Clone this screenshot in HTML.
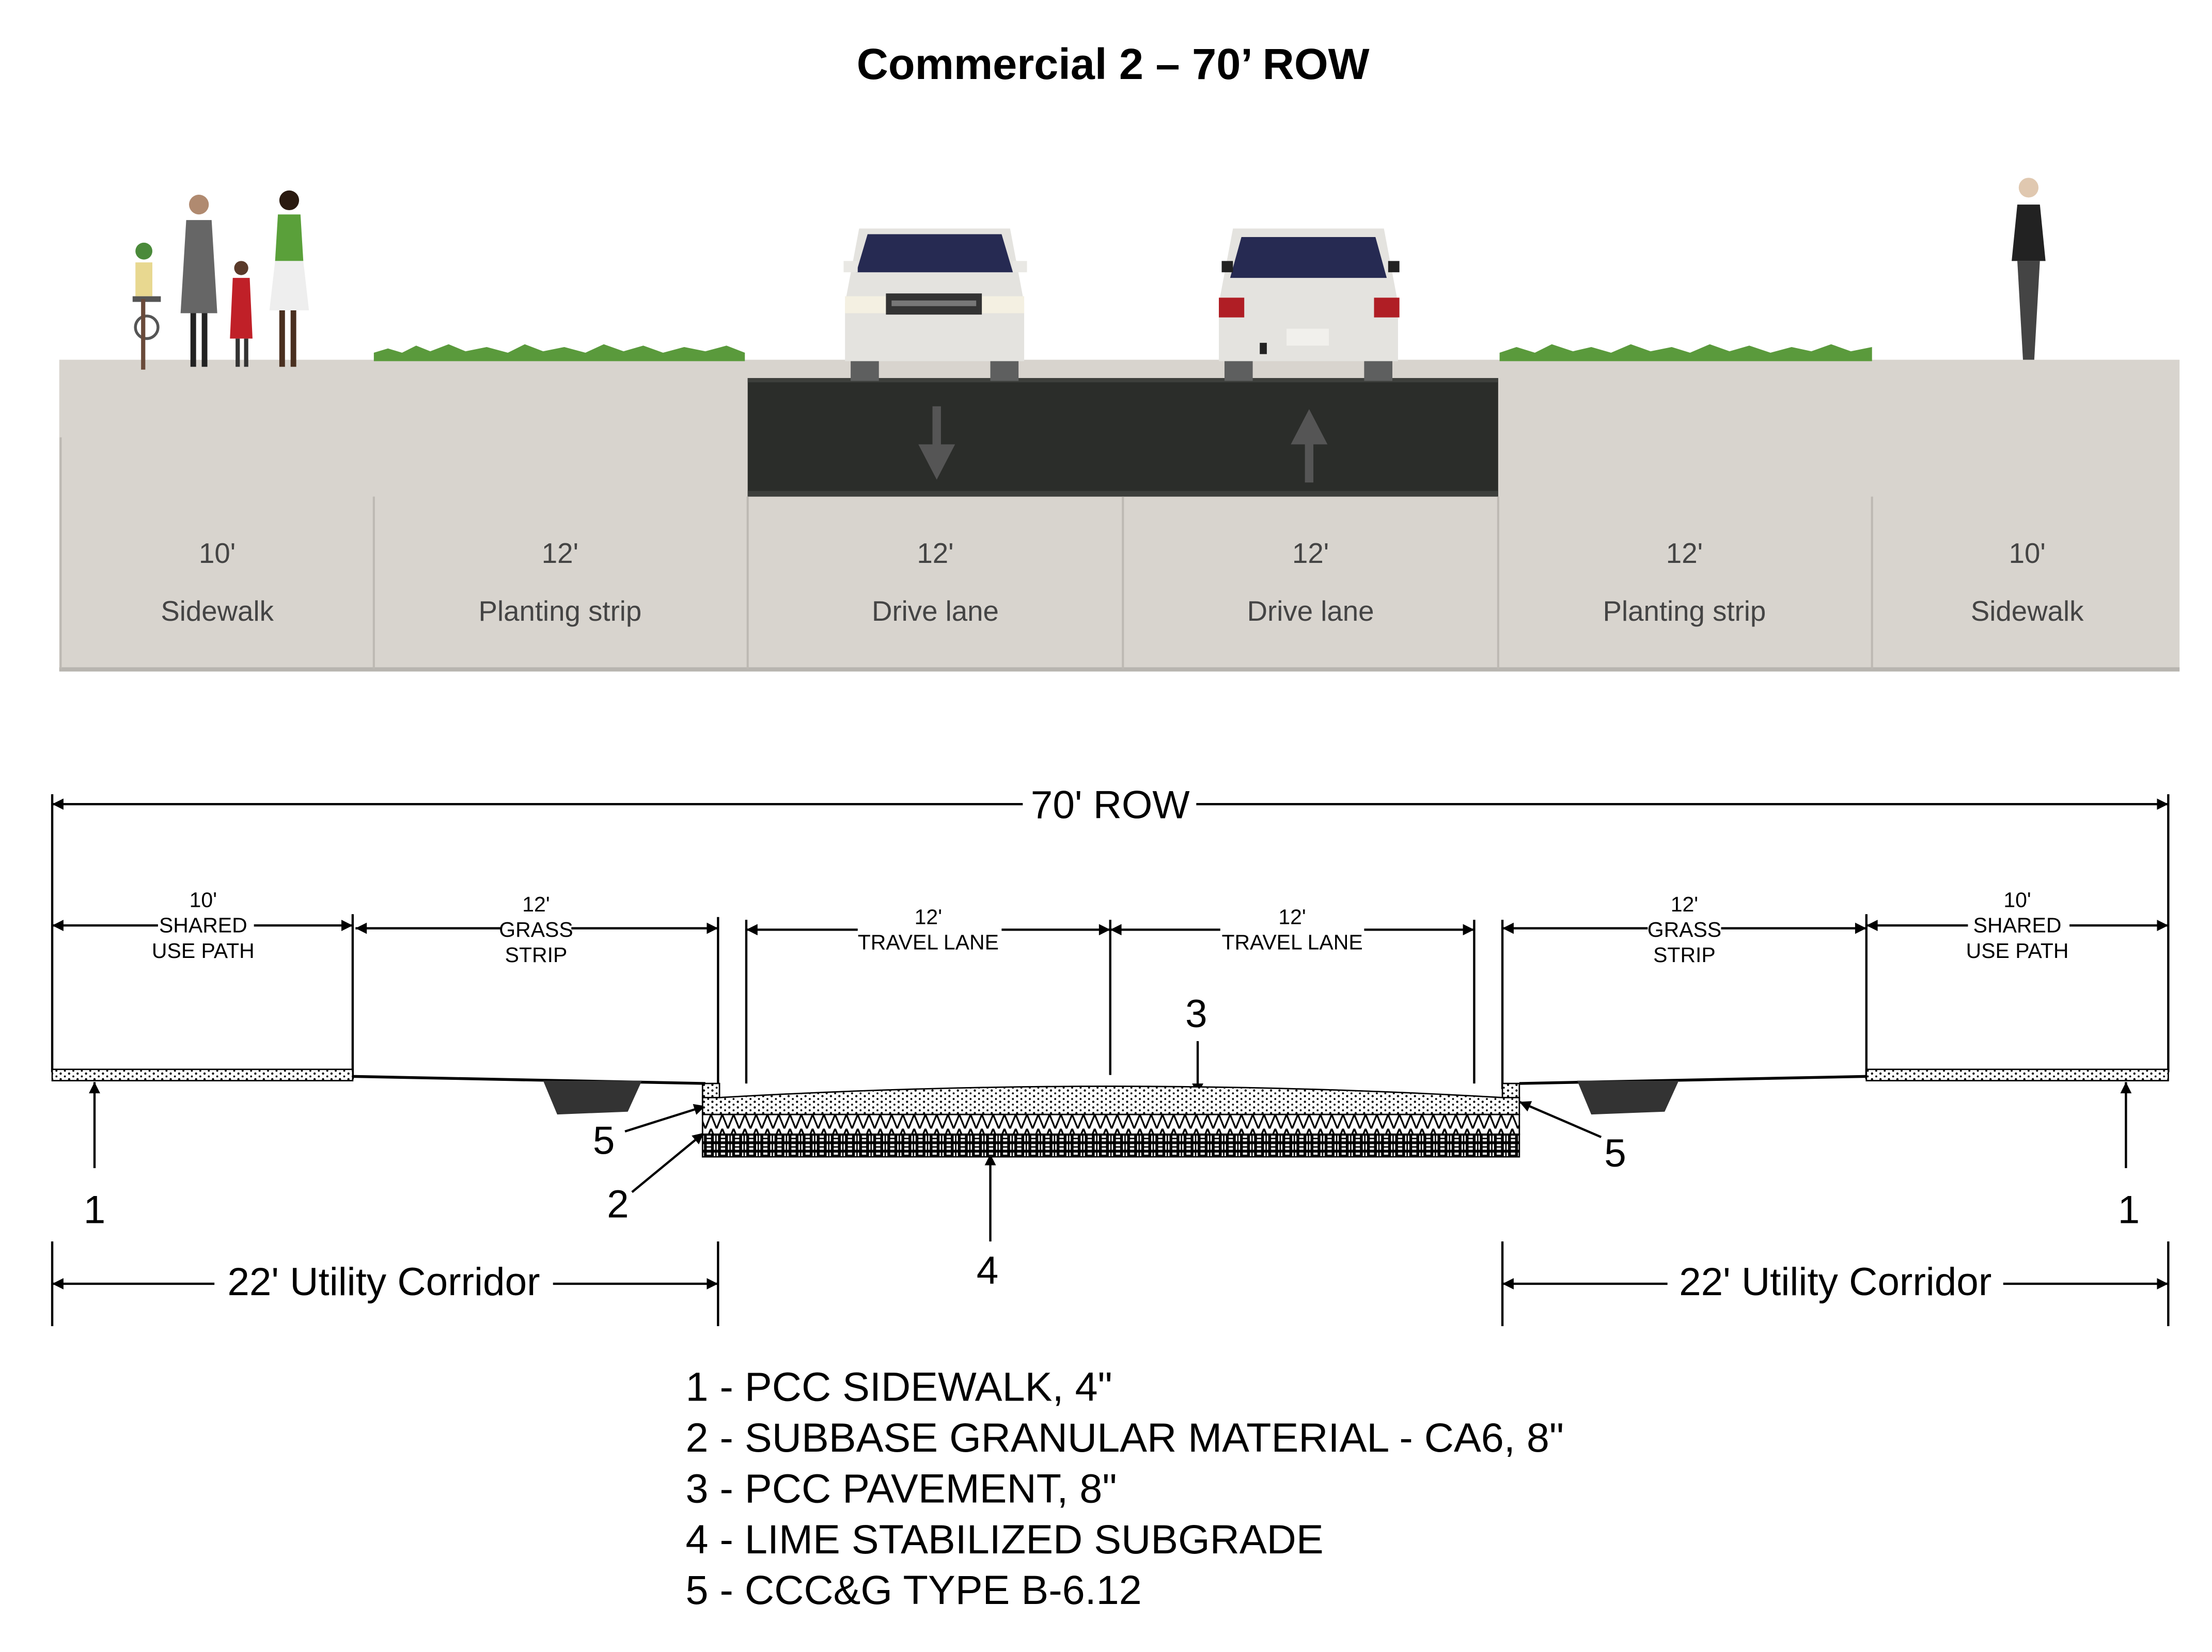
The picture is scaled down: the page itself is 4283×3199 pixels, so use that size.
<!DOCTYPE html>
<html><head><meta charset="utf-8"><style>
html,body{margin:0;padding:0;background:#fff;}
svg{display:block;}
</style></head><body>
<svg width="4283" height="3199" viewBox="0 0 1568 1171" preserveAspectRatio="none" xmlns="http://www.w3.org/2000/svg" font-family="Liberation Sans, Arial, sans-serif">
<defs>
<marker id="ar" viewBox="0 0 10 10" refX="10" refY="5" markerWidth="22" markerHeight="8" markerUnits="userSpaceOnUse" orient="auto-start-reverse"><path d="M0,0 L10,5 L0,10 z" fill="#000"/></marker>
<pattern id="dots" width="6" height="4" patternUnits="userSpaceOnUse"><rect width="6" height="4" fill="#fff"/><circle cx="1" cy="1" r="0.8" fill="#000"/><circle cx="4" cy="3" r="0.7" fill="#000"/></pattern>
<pattern id="grav" width="8" height="10" patternUnits="userSpaceOnUse"><rect width="8" height="10" fill="#fff"/><path d="M0,0 L4,10 L8,0" stroke="#000" stroke-width="1.2" fill="none"/></pattern>
<pattern id="lime" width="10" height="6" patternUnits="userSpaceOnUse"><rect width="10" height="6" fill="#000"/><rect x="1" y="1" width="3" height="1.5" fill="#fff"/><rect x="6" y="1" width="1" height="4" fill="#fff"/><rect x="8" y="1" width="1" height="4" fill="#fff"/><rect x="1" y="3.5" width="3" height="1.5" fill="#fff"/></pattern>
</defs>
<rect width="1568" height="1171" fill="#fff"/>
<text x="789" y="56" text-anchor="middle" font-size="31" font-weight="bold" font-family="Liberation Sans, sans-serif">Commercial 2 – 70’ ROW</text>

<rect x="42" y="255" width="1503" height="220" fill="#d8d4ce"/>
<rect x="530" y="268" width="532" height="84" fill="#2b2d2a"/>
<rect x="530" y="268" width="532" height="3" fill="#3d3f3c"/>
<rect x="530" y="348" width="532" height="4" fill="#3d3f3c"/>
<rect x="42" y="473" width="1503" height="3" fill="#b8b5b0"/>
<g stroke="#bdb9b3" stroke-width="1.5">
<line x1="265" y1="352" x2="265" y2="474"/><line x1="530" y1="352" x2="530" y2="474"/>
<line x1="796" y1="352" x2="796" y2="474"/><line x1="1062" y1="352" x2="1062" y2="474"/>
<line x1="1327" y1="352" x2="1327" y2="474"/><line x1="43" y1="310" x2="43" y2="474"/>
</g>
<g font-size="20" fill="#444" text-anchor="middle">
<text x="154" y="399">10'</text><text x="154" y="440">Sidewalk</text>
<text x="397" y="399">12'</text><text x="397" y="440">Planting strip</text>
<text x="663" y="399">12'</text><text x="663" y="440">Drive lane</text>
<text x="929" y="399">12'</text><text x="929" y="440">Drive lane</text>
<text x="1194" y="399">12'</text><text x="1194" y="440">Planting strip</text>
<text x="1437" y="399">10'</text><text x="1437" y="440">Sidewalk</text>
</g>
<g fill="#5a9a3c">
<path d="M265,256 L265,250 L275,247 L285,250 L295,245 L305,249 L318,244 L330,249 L345,246 L360,250 L372,244 L385,249 L400,246 L415,250 L428,244 L442,249 L456,245 L470,250 L485,246 L500,249 L515,245 L528,250 L528,256 z"/>
<path d="M1063,256 L1063,250 L1075,246 L1088,250 L1100,244 L1115,249 L1128,246 L1142,250 L1156,244 L1170,249 L1185,246 L1198,250 L1212,244 L1226,249 L1240,245 L1255,250 L1270,246 L1284,249 L1298,244 L1312,249 L1327,246 L1327,256 z"/>
</g>
<g fill="#555">
<rect x="661" y="288" width="6" height="30"/><path d="M651,315 L677,315 L664,340 z"/>
<rect x="925" y="312" width="6" height="30"/><path d="M915,315 L941,315 L928,290 z"/>
</g>
<g>
<rect x="603" y="255" width="20" height="15" fill="#5e5f5f"/><rect x="702" y="255" width="20" height="15" fill="#5e5f5f"/>
<path d="M609,162 L716,162 L726,215 L726,256 L599,256 L599,215 z" fill="#e4e3df"/>
<path d="M615,166 L710,166 L718,193 L607,193 z" fill="#262a52"/>
<rect x="598" y="185" width="10" height="8" fill="#e9e8e4"/><rect x="718" y="185" width="10" height="8" fill="#e9e8e4"/>
<rect x="599" y="210" width="127" height="12" fill="#f4f0e2"/>
<rect x="628" y="208" width="68" height="15" fill="#333"/><rect x="632" y="213" width="60" height="4" fill="#777"/>
</g>
<g>
<rect x="868" y="255" width="20" height="15" fill="#5e5f5f"/><rect x="967" y="255" width="20" height="15" fill="#5e5f5f"/>
<path d="M874,162 L981,162 L991,215 L991,256 L864,256 L864,215 z" fill="#e4e3df"/>
<path d="M880,168 L975,168 L983,197 L872,197 z" fill="#262a52"/>
<rect x="866" y="185" width="8" height="8" fill="#222"/><rect x="984" y="185" width="8" height="8" fill="#222"/>
<rect x="864" y="211" width="18" height="14" fill="#b01e25"/><rect x="974" y="211" width="18" height="14" fill="#b01e25"/>
<rect x="912" y="233" width="30" height="12" fill="#f1f0ec"/>
<rect x="893" y="243" width="5" height="8" fill="#222"/>
</g>
<g>
<circle cx="102" cy="178" r="6" fill="#4a8a3a"/><rect x="96" y="186" width="12" height="24" fill="#e8d890"/><rect x="94" y="210" width="20" height="4" fill="#555"/><circle cx="104" cy="232" r="8" fill="none" stroke="#555" stroke-width="2"/><rect x="100" y="212" width="3" height="50" fill="#6a4a3a"/>
<circle cx="141" cy="145" r="7" fill="#b08a70"/><path d="M132,156 L150,156 L154,222 L128,222 z" fill="#666"/><rect x="135" y="222" width="4" height="38" fill="#222"/><rect x="143" y="222" width="4" height="38" fill="#222"/>
<circle cx="171" cy="190" r="5" fill="#5a3a2a"/><path d="M165,197 L177,197 L179,240 L163,240 z" fill="#c02028"/><rect x="167" y="240" width="3" height="20" fill="#333"/><rect x="173" y="240" width="3" height="20" fill="#333"/>
<circle cx="205" cy="142" r="7" fill="#2a1a10"/><path d="M197,152 L213,152 L215,185 L195,185 z" fill="#5aa03a"/><path d="M195,185 L215,185 L219,220 L191,220 z" fill="#eee"/><rect x="198" y="220" width="4" height="40" fill="#4a3020"/><rect x="206" y="220" width="4" height="40" fill="#4a3020"/>
<circle cx="1438" cy="133" r="7" fill="#e0c8b0"/><path d="M1430,145 L1446,145 L1450,185 L1426,185 z" fill="#222"/><path d="M1430,185 L1446,185 L1442,255 L1434,255 z" fill="#444"/>
</g>

<g stroke="#000" stroke-width="1.6" fill="none">
<line x1="37" y1="570" x2="725" y2="570" marker-start="url(#ar)"/>
<line x1="848" y1="570" x2="1537" y2="570" marker-end="url(#ar)"/>
<line x1="37" y1="563" x2="37" y2="760"/><line x1="1537" y1="563" x2="1537" y2="760"/>
<line x1="250" y1="648" x2="250" y2="765"/><line x1="509" y1="650" x2="509" y2="772"/>
<line x1="529" y1="652" x2="529" y2="768"/><line x1="787" y1="652" x2="787" y2="762"/>
<line x1="1045" y1="652" x2="1045" y2="768"/><line x1="1065" y1="652" x2="1065" y2="772"/>
<line x1="1323" y1="648" x2="1323" y2="765"/>
<line x1="37" y1="656" x2="112" y2="656" marker-start="url(#ar)"/><line x1="180" y1="656" x2="250" y2="656" marker-end="url(#ar)"/>
<line x1="252" y1="658" x2="355" y2="658" marker-start="url(#ar)"/><line x1="405" y1="658" x2="509" y2="658" marker-end="url(#ar)"/>
<line x1="529" y1="659" x2="608" y2="659" marker-start="url(#ar)"/><line x1="710" y1="659" x2="787" y2="659" marker-end="url(#ar)"/>
<line x1="787" y1="659" x2="865" y2="659" marker-start="url(#ar)"/><line x1="967" y1="659" x2="1045" y2="659" marker-end="url(#ar)"/>
<line x1="1065" y1="658" x2="1168" y2="658" marker-start="url(#ar)"/><line x1="1220" y1="658" x2="1323" y2="658" marker-end="url(#ar)"/>
<line x1="1323" y1="656" x2="1395" y2="656" marker-start="url(#ar)"/><line x1="1467" y1="656" x2="1537" y2="656" marker-end="url(#ar)"/>
<line x1="37" y1="880" x2="37" y2="940"/><line x1="509" y1="880" x2="509" y2="940"/>
<line x1="1065" y1="880" x2="1065" y2="940"/><line x1="1537" y1="880" x2="1537" y2="940"/>
<line x1="37" y1="910" x2="152" y2="910" marker-start="url(#ar)"/><line x1="392" y1="910" x2="509" y2="910" marker-end="url(#ar)"/>
<line x1="1065" y1="910" x2="1182" y2="910" marker-start="url(#ar)"/><line x1="1420" y1="910" x2="1537" y2="910" marker-end="url(#ar)"/>
<line x1="250" y1="763" x2="500" y2="768" stroke-width="2"/><line x1="1077" y1="768" x2="1323" y2="763" stroke-width="2"/>
<line x1="67" y1="828" x2="67" y2="767" marker-end="url(#ar)"/>
<line x1="1507" y1="828" x2="1507" y2="767" marker-end="url(#ar)"/>
<line x1="849" y1="738" x2="849" y2="776" marker-end="url(#ar)"/>
<line x1="702" y1="880" x2="702" y2="818" marker-end="url(#ar)"/>
<line x1="443" y1="802" x2="500" y2="784" marker-end="url(#ar)"/>
<line x1="448" y1="845" x2="499" y2="803" marker-end="url(#ar)"/>
<line x1="1135" y1="806" x2="1077" y2="781" marker-end="url(#ar)"/>
</g>
<rect x="37" y="758" width="213" height="8" fill="url(#dots)" stroke="#000" stroke-width="1"/>
<rect x="1323" y="758" width="214" height="8" fill="url(#dots)" stroke="#000" stroke-width="1"/>
<path d="M385,766 L455,766 L445,788 L395,790 z" fill="#333"/>
<path d="M1118,766 L1190,766 L1180,788 L1128,790 z" fill="#333"/>
<rect x="498" y="768" width="12" height="14" fill="url(#dots)" stroke="#000" stroke-width="1"/>
<rect x="1065" y="768" width="12" height="14" fill="url(#dots)" stroke="#000" stroke-width="1"/>
<path d="M510,778 Q787,762 1065,778 L1077,778 L1077,790 L498,790 L498,778 z" fill="url(#dots)" stroke="#000" stroke-width="1"/>
<rect x="498" y="790" width="579" height="14" fill="url(#grav)" stroke="#000" stroke-width="1"/>
<rect x="498" y="804" width="579" height="16" fill="url(#lime)" stroke="#000" stroke-width="1"/>

<g font-size="28" text-anchor="middle">
<text x="787" y="580">70' ROW</text>
<text x="67" y="867">1</text><text x="1509" y="867">1</text>
<text x="428" y="818">5</text><text x="438" y="863">2</text>
<text x="848" y="728">3</text><text x="700" y="910">4</text><text x="1145" y="827">5</text>
<text x="272" y="918">22' Utility Corridor</text>
<text x="1301" y="918">22' Utility Corridor</text>
</g>
<g font-size="15" text-anchor="middle">
<text x="144" y="643">10'</text><text x="144" y="661">SHARED</text><text x="144" y="679">USE PATH</text>
<text x="380" y="646">12'</text><text x="380" y="664">GRASS</text><text x="380" y="682">STRIP</text>
<text x="658" y="655">12'</text><text x="658" y="673">TRAVEL LANE</text>
<text x="916" y="655">12'</text><text x="916" y="673">TRAVEL LANE</text>
<text x="1194" y="646">12'</text><text x="1194" y="664">GRASS</text><text x="1194" y="682">STRIP</text>
<text x="1430" y="643">10'</text><text x="1430" y="661">SHARED</text><text x="1430" y="679">USE PATH</text>
</g>
<g font-size="29">
<text x="486" y="993">1 - PCC SIDEWALK, 4"</text>
<text x="486" y="1029">2 - SUBBASE GRANULAR MATERIAL - CA6, 8"</text>
<text x="486" y="1065">3 - PCC PAVEMENT, 8"</text>
<text x="486" y="1101">4 - LIME STABILIZED SUBGRADE</text>
<text x="486" y="1137">5 - CCC&amp;G TYPE B-6.12</text>
</g>
</svg>
</body></html>
